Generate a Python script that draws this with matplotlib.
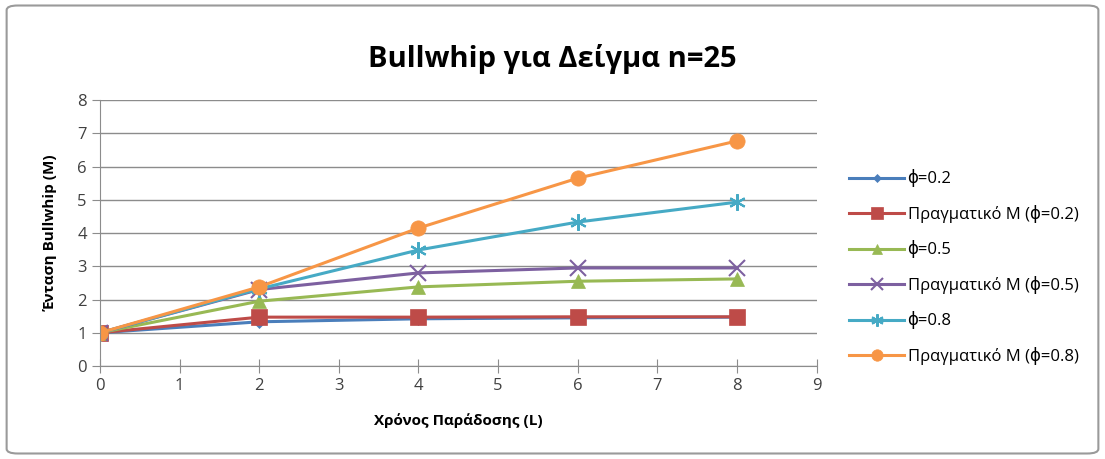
import numpy as np
import matplotlib
matplotlib.use("Agg")
import matplotlib.pyplot as plt
from matplotlib.patches import FancyBboxPatch

plt.rcParams['font.family'] = ['Open Sans', 'DejaVu Sans']

# data
L = [0, 2, 4, 6, 8]
phi02 = [1.0, 1.33, 1.42, 1.45, 1.47]
real02 = [1.0, 1.47, 1.47, 1.48, 1.48]
phi05 = [1.0, 1.95, 2.38, 2.55, 2.62]
real05 = [1.0, 2.3, 2.8, 2.95, 2.95]
phi08 = [1.0, 2.32, 3.49, 4.33, 4.93]
real08 = [1.0, 2.38, 4.15, 5.65, 6.77]

labels = ['\u03d5=0.2', 'Πραγματικό M (\u03d5=0.2)', '\u03d5=0.5',
          'Πραγματικό M (\u03d5=0.5)', '\u03d5=0.8', 'Πραγματικό M (\u03d5=0.8)']
series = [phi02, real02, phi05, real05, phi08, real08]
colors = ['#4A7EBB', '#BE4B48', '#98B954', '#7D60A0', '#46AAC5', '#F79646']
markers = ['D', 's', '^', 'x', (6, 2, 0), 'o']
msizes = [6, 11, 10, 11, 12, 11]

fig = plt.figure(figsize=(11.05, 4.59), dpi=100)
ax = fig.add_axes([0.0905, 0.2026, 0.6485, 0.5794])

for y, lab, c, m, ms in zip(series, labels, colors, markers, msizes):
    ax.plot(L, y, color=c, marker=m, markersize=ms, linewidth=2.2,
            markeredgewidth=1.5 if m in ('x', (6, 2, 0)) else 0.5,
            markeredgecolor=c, label=lab)

ax.set_xlim(0, 9)
ax.set_ylim(0, 8)
ax.set_xticks(range(0, 10))
ax.set_yticks(range(0, 9))
ax.yaxis.grid(True, color='#8C8C8C', linewidth=1)
ax.set_axisbelow(True)
for s in ['top', 'right']:
    ax.spines[s].set_visible(False)
for s in ['left', 'bottom']:
    ax.spines[s].set_color('#8C8C8C')
ax.tick_params(axis='both', colors='#8C8C8C', labelcolor='#404040',
               labelsize=12, length=6)
ax.tick_params(axis='x', direction='inout', length=10)
ax.set_xlabel('Χρόνος Παράδοσης (L)', fontsize=11, fontweight='bold', labelpad=14)
ax.set_ylabel('Ένταση Bullwhip (M)', fontsize=11, fontweight='bold', labelpad=14)

fig.text(0.5, 0.872, 'Bullwhip για Δείγμα n=25', ha='center', va='center',
         fontsize=21, fontweight='bold')

fig.legend(loc='center left', bbox_to_anchor=(0.755, 0.418), frameon=False,
           fontsize=12, handlelength=3.3, labelspacing=1.05, handletextpad=0.2,
           markerscale=0.75)

border = FancyBboxPatch((0.006, 0.012), 0.988, 0.976, boxstyle='round,pad=0,rounding_size=0.01',
                        transform=fig.transFigure, fill=False, edgecolor='#9A9A9A', linewidth=1.5)
fig.patches.append(border)

fig.savefig('out.png', dpi=100)
